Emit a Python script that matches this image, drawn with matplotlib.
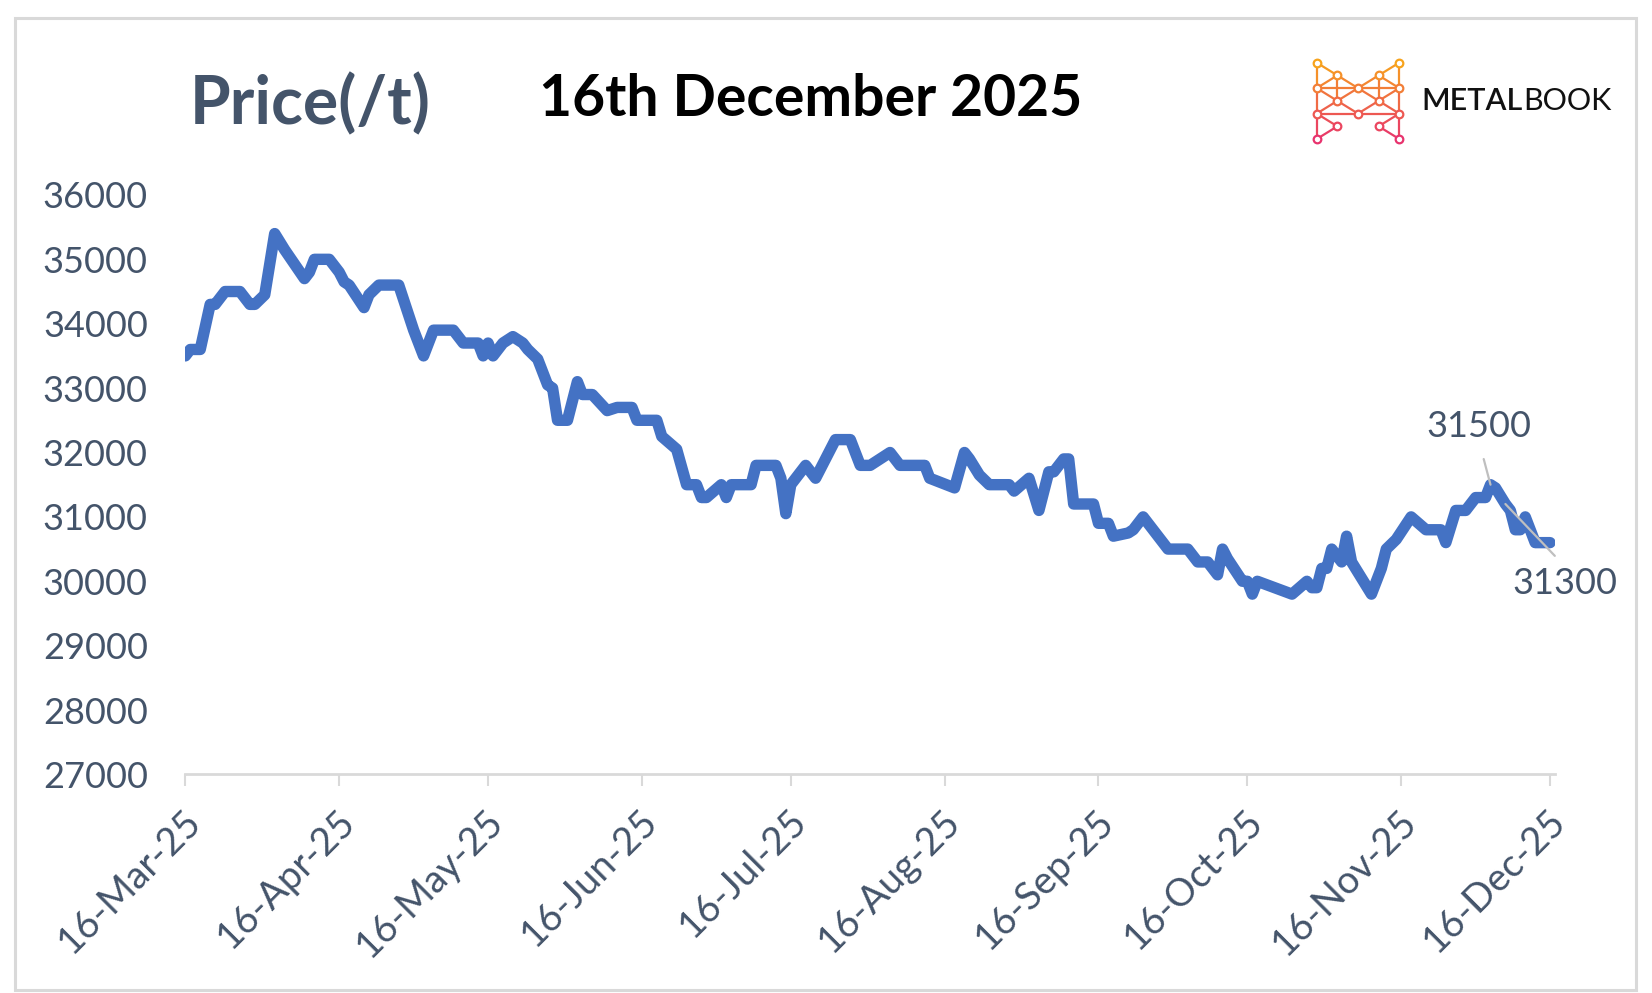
import numpy as np
import pandas as pd
import matplotlib
matplotlib.use("Agg")
import matplotlib.pyplot as plt
import matplotlib.transforms as mtransforms
from matplotlib.patches import Rectangle

plt.rcParams['font.family'] = ['Lato', 'DejaVu Sans']

# price series (vertices of the line)
dates = [
    '2025-03-16', '2025-03-17', '2025-03-19', '2025-03-21', '2025-03-22', '2025-03-24',
    '2025-03-27', '2025-03-29', '2025-03-30', '2025-04-01', '2025-04-03', '2025-04-05',
    '2025-04-09', '2025-04-10', '2025-04-11', '2025-04-14', '2025-04-16', '2025-04-17',
    '2025-04-18', '2025-04-21', '2025-04-22', '2025-04-24', '2025-04-28', '2025-05-01',
    '2025-05-03', '2025-05-05', '2025-05-09', '2025-05-11', '2025-05-14', '2025-05-15',
    '2025-05-16', '2025-05-17', '2025-05-19', '2025-05-21', '2025-05-23', '2025-05-24',
    '2025-05-26', '2025-05-28', '2025-05-29', '2025-05-30', '2025-06-01', '2025-06-03',
    '2025-06-04', '2025-06-06', '2025-06-09', '2025-06-11', '2025-06-14', '2025-06-15',
    '2025-06-19', '2025-06-20', '2025-06-23', '2025-06-25', '2025-06-27', '2025-06-28',
    '2025-06-29', '2025-07-02', '2025-07-03', '2025-07-04', '2025-07-08', '2025-07-09',
    '2025-07-13', '2025-07-14', '2025-07-15', '2025-07-16', '2025-07-19', '2025-07-21',
    '2025-07-25', '2025-07-28', '2025-07-30', '2025-08-01', '2025-08-05', '2025-08-07',
    '2025-08-12', '2025-08-13', '2025-08-18', '2025-08-20', '2025-08-21', '2025-08-23',
    '2025-08-25', '2025-08-29', '2025-08-30', '2025-09-02', '2025-09-04', '2025-09-06',
    '2025-09-07', '2025-09-09', '2025-09-10', '2025-09-11', '2025-09-15', '2025-09-16',
    '2025-09-18', '2025-09-19', '2025-09-22', '2025-09-23', '2025-09-25', '2025-09-27',
    '2025-09-28', '2025-09-30', '2025-10-04', '2025-10-06', '2025-10-08', '2025-10-10',
    '2025-10-11', '2025-10-12', '2025-10-15', '2025-10-16', '2025-10-17', '2025-10-18',
    '2025-10-25', '2025-10-28', '2025-10-29', '2025-10-30', '2025-10-31', '2025-11-01',
    '2025-11-02', '2025-11-04', '2025-11-05', '2025-11-06', '2025-11-08', '2025-11-10',
    '2025-11-12', '2025-11-13', '2025-11-15', '2025-11-18', '2025-11-21', '2025-11-24',
    '2025-11-25', '2025-11-27', '2025-11-29', '2025-12-01', '2025-12-03', '2025-12-04',
    '2025-12-05', '2025-12-07', '2025-12-08', '2025-12-09', '2025-12-10', '2025-12-11',
    '2025-12-13', '2025-12-16',
]
prices = [
    33500, 33600, 33600, 34300, 34300, 34500,
    34500, 34300, 34300, 34450, 35400, 35150,
    34700, 34800, 35000, 35000, 34800, 34650,
    34600, 34250, 34450, 34600, 34600, 33900,
    33500, 33900, 33900, 33700, 33700, 33500,
    33700, 33500, 33700, 33800, 33700, 33600,
    33450, 33050, 33000, 32500, 32500, 33100,
    32900, 32900, 32650, 32700, 32700, 32500,
    32500, 32250, 32050, 31500, 31500, 31300,
    31300, 31500, 31300, 31500, 31500, 31800,
    31800, 31600, 31050, 31500, 31800, 31600,
    32200, 32200, 31800, 31800, 32000, 31800,
    31800, 31600, 31450, 32000, 31900, 31650,
    31500, 31500, 31400, 31600, 31100, 31700,
    31700, 31900, 31900, 31200, 31200, 30900,
    30900, 30700, 30750, 30800, 31000, 30800,
    30700, 30500, 30500, 30300, 30300, 30100,
    30500, 30350, 30000, 30000, 29800, 30000,
    29800, 30000, 29900, 29900, 30200, 30200,
    30500, 30300, 30700, 30300, 30050, 29800,
    30200, 30500, 30650, 31000, 30800, 30800,
    30600, 31100, 31100, 31300, 31300, 31500,
    31450, 31200, 31100, 30800, 30800, 31000,
    30600, 30600,
]

tick_dates = ['2025-03-16', '2025-04-16', '2025-05-16', '2025-06-16', '2025-07-16',
              '2025-08-16', '2025-09-16', '2025-10-16', '2025-11-16', '2025-12-16']
tick_labels = ['16-Mar-25', '16-Apr-25', '16-May-25', '16-Jun-25', '16-Jul-25',
               '16-Aug-25', '16-Sep-25', '16-Oct-25', '16-Nov-25', '16-Dec-25']
y_ticks = [27000, 28000, 29000, 30000, 31000, 32000, 33000, 34000, 35000, 36000]

# data labels shown on the chart
label_dates = ['2025-12-04', '2025-12-07']
label_texts = ['31500', '31300']

x = pd.to_datetime(dates)
txt_color = '#44546A'
grey = '#D9D9D9'

fig = plt.figure(figsize=(16.52, 9.93), dpi=100)
fig.patches.append(Rectangle((15 / 1652, 3 / 993), 1621 / 1652, 972 / 993,
                             transform=fig.transFigure, fill=False,
                             edgecolor=grey, linewidth=2.2))

ax = fig.add_axes([0.1122, 0.2201, 0.8291, 0.5836])
ax.plot(x, prices, color='#4472C4', linewidth=8.2,
        solid_joinstyle='round', solid_capstyle='round')

ax.set_ylim(27000, 36000)
ax.set_xlim(pd.Timestamp('2025-03-16'), pd.Timestamp('2025-12-17'))
ax.set_yticks(y_ticks)
ax.set_yticklabels([str(v) for v in y_ticks])
ax.set_xticks(pd.to_datetime(tick_dates))
ax.set_xticklabels(tick_labels, rotation=45, ha='right', rotation_mode='anchor')

for s in ['top', 'right', 'left']:
    ax.spines[s].set_visible(False)
ax.spines['bottom'].set_color(grey)
ax.spines['bottom'].set_linewidth(2)
ax.tick_params(axis='y', length=0, pad=27, labelsize=26, labelcolor=txt_color)
ax.tick_params(axis='x', length=8.5, width=1.5, color=grey, direction='out',
               pad=12, labelsize=27.5, labelcolor=txt_color)
off = mtransforms.ScaledTranslation(-2 / 72, 0, fig.dpi_scale_trans)
for lab in ax.get_xticklabels():
    lab.set_transform(lab.get_transform() + off)

# data labels with leader lines
i0 = dates.index(label_dates[0])
ax.annotate(label_texts[0], xy=(x[i0], prices[i0]), xytext=(-8, 42),
            textcoords='offset points', ha='center', va='center',
            fontsize=26, color=txt_color,
            arrowprops=dict(arrowstyle='-', color='#BFBFBF', lw=1.6,
                            relpos=(0.5, 0), shrinkA=10, shrinkB=0))
i1 = dates.index(label_dates[1])
ax.annotate(label_texts[1], xy=(x[i1], prices[i1]), xytext=(43, -57),
            textcoords='offset points', ha='center', va='center',
            fontsize=26, color=txt_color, annotation_clip=False,
            arrowprops=dict(arrowstyle='-', color='#BFBFBF', lw=1.6,
                            relpos=(0.5, 1), shrinkA=8, shrinkB=0))

# headings
fig.text(190 / 1652, 1 - 105 / 993, 'Price(/t)', fontsize=47.5, fontweight='bold',
         color=txt_color, ha='left', va='center')
fig.text(811 / 1652, 1 - 100 / 993, '16th December 2025', fontsize=41,
         fontweight='bold', color='black', ha='center', va='center')

# logo
lax = fig.add_axes([1306.4 / 1652, 1 - 145.4 / 993, 103.2 / 1652, 89.1 / 993])
lax.set_xlim(-0.5, 4.5)
lax.set_ylim(6.5, -0.5)
lax.axis('off')
nodes = {'A': (0, 0), 'B': (4, 0), 'C': (1, 1), 'D': (3, 1), 'E': (0, 2), 'F': (2, 2),
         'G': (4, 2), 'H': (1, 3), 'I': (3, 3), 'J': (0, 4), 'K': (2, 4), 'L': (4, 4),
         'M': (1, 5), 'N': (3, 5), 'O': (0, 6), 'P': (4, 6)}
edges = ['AE', 'EJ', 'JO', 'BG', 'GL', 'LP', 'AC', 'CF', 'FD', 'DB', 'CE', 'DG',
         'CH', 'DI', 'EF', 'FG', 'EH', 'FH', 'FI', 'GI', 'HJ', 'HK', 'IK', 'IL',
         'JK', 'KL', 'JM', 'MO', 'LN', 'NP']
c_top = np.array([0.97, 0.64, 0.11])
c_bot = np.array([0.91, 0.20, 0.43])
def grad(r):
    t = r / 6
    return tuple(c_top * (1 - t) + c_bot * t)
for e in edges:
    (x1, y1), (x2, y2) = nodes[e[0]], nodes[e[1]]
    lax.plot([x1, x2], [y1, y2], color=grad((y1 + y2) / 2), lw=1.6,
             solid_capstyle='round')
for k, (nx, ny) in nodes.items():
    lax.plot(nx, ny, 'o', ms=5.5, mfc='white', mec=grad(ny), mew=1.6)

t_metal = fig.text(1421 / 1652, 1 - 101 / 993, 'METAL', fontsize=22,
                   fontweight='semibold', color='#111111', ha='left', va='center')
fig.canvas.draw()
bb = t_metal.get_window_extent()
fig.text(bb.x1 / 1652 + 0.0005, 1 - 101 / 993, 'BOOK', fontsize=22, fontweight='normal',
         color='#111111', ha='left', va='center')

fig.savefig('out.png', dpi=100, facecolor='white')
